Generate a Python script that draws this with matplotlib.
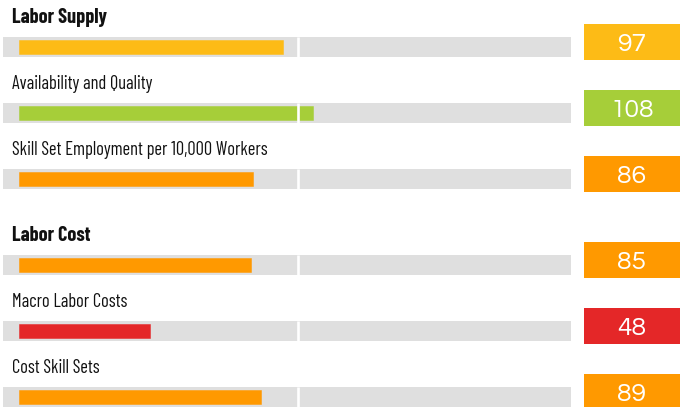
import matplotlib
matplotlib.use("Agg")
import matplotlib.pyplot as plt
from matplotlib.patches import Rectangle
from matplotlib.transforms import blended_transform_factory

# ---- data ----
labels = ["Labor Supply", "Availability and Quality",
          "Skill Set Employment per 10,000 Workers",
          "Labor Cost", "Macro Labor Costs", "Cost Skill Sets"]
values = [97, 108, 86, 85, 48, 89]
is_header = [True, False, False, True, False, False]
groups = [0, 0, 0, 1, 1, 1]
colors = ["#FDBB16", "#A6CE39", "#FF9900", "#FF9900", "#E42728", "#FF9900"]
reference_value = 102.4

# ---- layout (pixels of a 686x407 canvas) ----
W, H = 686, 407
ORIGIN_PX = 18.5
PX_PER_UNIT = 2.73
TRACK_COLOR = "#DFDFDF"

fig = plt.figure(figsize=(W / 100, H / 100), dpi=100)
ax = fig.add_axes([0, 0, 1, 1])
ax.set_xlim(-ORIGIN_PX / PX_PER_UNIT, (W - ORIGIN_PX) / PX_PER_UNIT)
ax.set_ylim(H, 0)
ax.axis("off")
bt = blended_transform_factory(ax.transAxes, ax.transData)

label_family = ["Barlow Condensed", "DejaVu Sans"]
num_family = ["Questrial", "Lato", "DejaVu Sans"]

ycs = [47 + 66 * i + 20 * g for i, g in enumerate(groups)]

for yc, lab, val, col, hdr in zip(ycs, labels, values, colors, is_header):
    ax.add_patch(Rectangle((3 / W, yc - 10), (571 - 3) / W, 20,
                           transform=bt, facecolor=TRACK_COLOR, edgecolor="none", zorder=1))
    ax.text(12.5 / W, yc - 23.6, lab, transform=bt, va="baseline", ha="left",
            fontsize=14.5 if hdr else 13.3, fontweight="bold" if hdr else "normal",
            family=label_family, color="#111111")
    ax.add_patch(Rectangle((584 / W, yc - 23), 96 / W, 36, transform=bt,
                           facecolor=col, edgecolor="none", zorder=1))
    ax.text(632 / W, yc - 5, str(val), transform=bt, ha="center", va="center_baseline",
            fontsize=19, color="white", family=num_family, fontweight="normal")

ax.barh(ycs, values, left=0, height=14.5, color=colors, zorder=2,
        edgecolor=[c + "99" for c in colors], linewidth=0.6)
ax.vlines([reference_value] * len(ycs), [y - 10 for y in ycs], [y + 10 for y in ycs],
          colors="white", linewidth=1.9, zorder=3)

fig.savefig("out.png", dpi=100)
